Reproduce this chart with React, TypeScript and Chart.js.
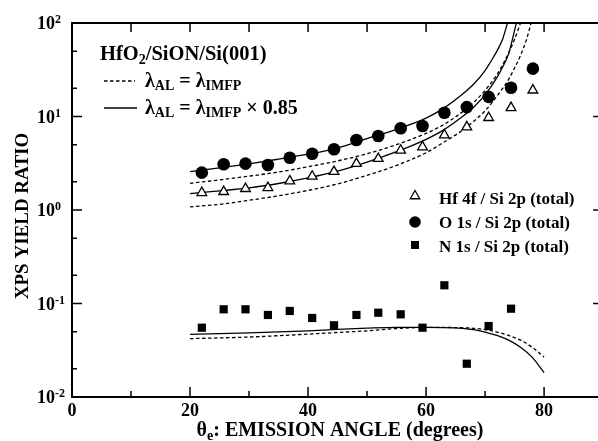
import React, { useEffect, useRef } from 'react';
import { Chart, registerables } from 'chart.js';

Chart.register(...registerables);

// ---- measured data ----
const ANGLES = [22.0, 25.7, 29.4, 33.2, 36.9, 40.7, 44.4, 48.2, 51.9, 55.7, 59.4, 63.1, 66.9, 70.6, 74.4, 78.1];
const HF_RATIO = [1.53, 1.57, 1.69, 1.73, 2.04, 2.29, 2.57, 3.13, 3.54, 4.35, 4.72, 6.34, 7.72, 9.71, 12.4, 19.1];
const O_RATIO = [2.51, 3.08, 3.13, 3.03, 3.62, 4.0, 4.46, 5.61, 6.18, 7.48, 7.91, 10.98, 12.6, 16.2, 20.3, 32.5];
const N_ANGLES = [22.0, 25.7, 29.4, 33.2, 36.9, 40.7, 44.4, 48.2, 51.9, 55.7, 59.4, 63.1, 66.9, 70.6, 74.4];
const N_RATIO = [0.0551, 0.0867, 0.0867, 0.0754, 0.0832, 0.07, 0.0585, 0.0754, 0.0797, 0.0766, 0.0551, 0.1566, 0.0227, 0.0574, 0.088];

// ---- calculated curves ----
const O_SOLID_X = [20, 25, 30, 35, 40, 45, 50, 55, 60, 63, 66, 68, 70, 71, 72, 73, 73.8];
const O_SOLID_Y = [2.57, 2.82, 3.12, 3.5, 3.95, 4.6, 5.8, 7.3, 9.6, 12.3, 17, 22, 31, 39, 50, 68, 100];
const O_DASH_X = [20, 25, 30, 35, 40, 45, 50, 55, 60, 63, 66, 68, 70, 72, 73, 74, 75, 76];
const O_DASH_Y = [1.93, 2.1, 2.3, 2.55, 2.9, 3.35, 4.0, 5.0, 6.6, 8.2, 11, 14, 19, 28, 36, 48, 67, 100];
const HF_SOLID_X = [20, 25, 30, 35, 40, 45, 50, 55, 60, 63, 66, 68, 70, 72, 73, 74, 75.3];
const HF_SOLID_Y = [1.5, 1.6, 1.72, 1.92, 2.2, 2.6, 3.25, 4.2, 5.7, 7.2, 9.8, 12.5, 17, 26, 34, 47, 100];
const HF_DASH_X = [20, 25, 30, 35, 40, 45, 50, 55, 60, 63, 66, 68, 70, 72, 74, 75, 76, 77, 77.8];
const HF_DASH_Y = [1.08, 1.15, 1.27, 1.42, 1.62, 1.9, 2.35, 3.0, 4.1, 5.3, 7.0, 8.8, 11.5, 16.5, 25, 33, 45, 66, 100];
const N_SOLID_X = [20, 30, 40, 45, 50, 55, 60, 65, 68, 70, 72, 74, 76, 78, 80];
const N_SOLID_Y = [0.0468, 0.0485, 0.051, 0.053, 0.0545, 0.0555, 0.0555, 0.0548, 0.0525, 0.0495, 0.0455, 0.0405, 0.034, 0.0265, 0.0182];
const N_DASH_X = [20, 30, 40, 45, 50, 55, 60, 65, 68, 70, 72, 74, 76, 78, 80];
const N_DASH_Y = [0.0421, 0.0438, 0.047, 0.049, 0.051, 0.054, 0.0555, 0.0553, 0.0543, 0.0525, 0.0495, 0.0455, 0.0405, 0.034, 0.0268];

// ---- axes ----
const X_MIN = 0;
const X_MAX = 90;
const X_LABELS = [0, 20, 40, 60, 80];
const X_MINOR = [10, 30, 50, 70];
const Y_EXPONENTS = [-2, -1, 0, 1, 2];
const Y_MINOR_MULT = [2, 5];

const LEGEND_TITLE = ['HfO', '2', '/SiON/Si(001)'];
const SERIES_LABELS = ['Hf 4f / Si 2p (total)', 'O 1s / Si 2p (total)', 'N 1s / Si 2p (total)'];
const X_TITLE = ['θ', 'e', ': EMISSION ANGLE (degrees)'];
const Y_TITLE = 'XPS YIELD RATIO';

const FONT = "'Liberation Serif', 'Times New Roman', serif";
const f = (s: number) => `bold ${s}px ${FONT}`;

const pts = (xs: number[], ys: number[]) => xs.map((x, i) => ({ x, y: ys[i] }));

type Part = { t: string; size: number; dy?: number };
function drawRich(ctx: CanvasRenderingContext2D, x: number, y: number, parts: Part[], align: 'left' | 'center' = 'left') {
  let w = 0;
  for (const p of parts) { ctx.font = f(p.size); w += ctx.measureText(p.t).width; }
  let cx = align === 'center' ? x - w / 2 : x;
  ctx.textAlign = 'left';
  ctx.textBaseline = 'alphabetic';
  for (const p of parts) {
    ctx.font = f(p.size);
    ctx.fillText(p.t, cx, y + (p.dy || 0));
    cx += ctx.measureText(p.t).width;
  }
}

const decorPlugin = {
  id: 'decor',
  afterDatasetsDraw(chart: any) {
    const { ctx, chartArea: a, scales } = chart;
    const xs = scales.x, ys = scales.y;
    ctx.save();
    ctx.fillStyle = '#000';
    ctx.strokeStyle = '#000';
    ctx.setLineDash([]);
    // frame
    ctx.lineWidth = 2;
    ctx.beginPath();
    ctx.moveTo(a.left, a.top);
    ctx.lineTo(a.left, a.bottom);
    ctx.lineTo(a.right, a.bottom);
    ctx.lineTo(a.right, a.top);
    ctx.closePath();
    ctx.stroke();
    // x ticks
    ctx.lineWidth = 1.5;
    ctx.beginPath();
    for (const v of X_LABELS) {
      const px = xs.getPixelForValue(v);
      ctx.moveTo(px, a.bottom); ctx.lineTo(px, a.bottom - 10);
      ctx.moveTo(px, a.top); ctx.lineTo(px, a.top + 9);
    }
    for (const v of X_MINOR) {
      const px = xs.getPixelForValue(v);
      ctx.moveTo(px, a.bottom); ctx.lineTo(px, a.bottom - 6);
      ctx.moveTo(px, a.top); ctx.lineTo(px, a.top + 9);
    }
    // y ticks
    for (const e of Y_EXPONENTS) {
      const py = ys.getPixelForValue(Math.pow(10, e));
      ctx.moveTo(a.left, py); ctx.lineTo(a.left + 10, py);
      ctx.moveTo(a.right, py); ctx.lineTo(a.right - 10, py);
      if (e < 2) {
        for (const m of Y_MINOR_MULT) {
          const pm = ys.getPixelForValue(m * Math.pow(10, e));
          ctx.moveTo(a.left, pm); ctx.lineTo(a.left + 5, pm);
          ctx.moveTo(a.right, pm); ctx.lineTo(a.right - 5, pm);
        }
      }
    }
    ctx.stroke();

    // x tick labels
    ctx.font = f(18);
    ctx.textAlign = 'center';
    ctx.textBaseline = 'alphabetic';
    for (const v of X_LABELS) {
      ctx.fillText(String(v), xs.getPixelForValue(v), a.bottom + 19);
    }
    // y tick labels
    for (const e of Y_EXPONENTS) {
      const py = ys.getPixelForValue(Math.pow(10, e));
      drawRich(ctx, 37, py + 6, [{ t: '10', size: 18 }, { t: String(e), size: 12, dy: -6 }]);
    }
    // axis titles
    drawRich(ctx, 340, 436, [
      { t: X_TITLE[0], size: 20 },
      { t: X_TITLE[1], size: 14, dy: 4 },
      { t: X_TITLE[2], size: 20 },
    ], 'center');
    ctx.save();
    ctx.translate(28, 216);
    ctx.rotate(-Math.PI / 2);
    ctx.font = f(19);
    ctx.textAlign = 'center';
    ctx.textBaseline = 'alphabetic';
    ctx.fillText(Y_TITLE, 0, 0);
    ctx.restore();

    // model legend (top-left)
    drawRich(ctx, 100, 60, [
      { t: LEGEND_TITLE[0], size: 20.5 },
      { t: LEGEND_TITLE[1], size: 14, dy: 4 },
      { t: LEGEND_TITLE[2], size: 20.5 },
    ]);
    ctx.lineWidth = 1.3;
    ctx.setLineDash([3.5, 2.5]);
    ctx.beginPath(); ctx.moveTo(104, 81); ctx.lineTo(135, 81); ctx.stroke();
    ctx.setLineDash([]);
    ctx.beginPath(); ctx.moveTo(104, 108); ctx.lineTo(137, 108); ctx.stroke();
    drawRich(ctx, 145, 87, [
      { t: 'λ', size: 20 }, { t: 'AL', size: 14, dy: 3 }, { t: ' = ', size: 20 },
      { t: 'λ', size: 20 }, { t: 'IMFP', size: 14, dy: 3 },
    ]);
    drawRich(ctx, 145, 114, [
      { t: 'λ', size: 20 }, { t: 'AL', size: 14, dy: 3 }, { t: ' = ', size: 20 },
      { t: 'λ', size: 20 }, { t: 'IMFP', size: 14, dy: 3 }, { t: ' × 0.85', size: 20 },
    ]);

    // series legend (right)
    const mx = 415;
    ctx.lineWidth = 1.3;
    ctx.fillStyle = '#fff';
    ctx.beginPath();
    const r = 5.5, ty = 196;
    ctx.moveTo(mx, ty - r);
    ctx.lineTo(mx + r * Math.sin(2 * Math.PI / 3), ty + r / 2);
    ctx.lineTo(mx - r * Math.sin(2 * Math.PI / 3), ty + r / 2);
    ctx.closePath();
    ctx.fill(); ctx.stroke();
    ctx.fillStyle = '#000';
    ctx.beginPath(); ctx.arc(mx, 222, 5.8, 0, Math.PI * 2); ctx.fill();
    ctx.fillRect(mx - 4, 245 - 4, 8, 8);
    ctx.font = f(17);
    ctx.textAlign = 'left';
    ctx.fillText(SERIES_LABELS[0], 439, 204);
    ctx.fillText(SERIES_LABELS[1], 439, 228);
    ctx.fillText(SERIES_LABELS[2], 439, 252);
    ctx.restore();
  },
};

const lineDs = (xs: number[], ys: number[], dashed: boolean) => ({
  data: pts(xs, ys),
  showLine: true,
  borderColor: '#000',
  borderWidth: 1.3,
  borderDash: dashed ? [3.5, 2.5] : [],
  pointRadius: 0,
  pointHoverRadius: 0,
  fill: false,
  cubicInterpolationMode: 'monotone' as const,
  order: 2,
});

export default function App() {
  const ref = useRef<HTMLCanvasElement>(null);
  useEffect(() => {
    if (!ref.current) return;
    const chart = new Chart(ref.current, {
      type: 'scatter',
      data: {
        datasets: [
          {
            label: SERIES_LABELS[0],
            data: pts(ANGLES, HF_RATIO),
            pointStyle: 'triangle',
            radius: 5.6,
            backgroundColor: '#fff',
            borderColor: '#000',
            borderWidth: 1.3,
            order: 0,
          } as any,
          {
            label: SERIES_LABELS[1],
            data: pts(ANGLES, O_RATIO),
            pointStyle: 'circle',
            radius: 6.3,
            backgroundColor: '#000',
            borderColor: '#000',
            borderWidth: 0,
            order: 0,
          },
          {
            label: SERIES_LABELS[2],
            data: pts(N_ANGLES, N_RATIO),
            pointStyle: 'rect',
            radius: 5.8,
            backgroundColor: '#000',
            borderColor: '#000',
            borderWidth: 0,
            order: 0,
          },
          lineDs(O_SOLID_X, O_SOLID_Y, false),
          lineDs(O_DASH_X, O_DASH_Y, true),
          lineDs(HF_SOLID_X, HF_SOLID_Y, false),
          lineDs(HF_DASH_X, HF_DASH_Y, true),
          lineDs(N_SOLID_X, N_SOLID_Y, false),
          lineDs(N_DASH_X, N_DASH_Y, true),
        ] as any,
      },
      options: {
        animation: false,
        responsive: false,
        devicePixelRatio: 1,
        layout: { padding: { left: 72, right: 2.5, top: 23, bottom: 44 } },
        plugins: { legend: { display: false }, tooltip: { enabled: false } },
        events: [],
        scales: {
          x: { type: 'linear', min: X_MIN, max: X_MAX, display: false },
          y: { type: 'logarithmic', min: 0.01, max: 100, display: false },
        },
      },
      plugins: [decorPlugin],
    });
    return () => chart.destroy();
  }, []);
  return (
    <div style={{ position: 'fixed', left: 0, top: 0, width: 598, height: 441, overflow: 'hidden', background: '#fff' }}>
      <canvas ref={ref} width={610} height={441} style={{ display: 'block', width: 610, height: 441 }} />
    </div>
  );
}
